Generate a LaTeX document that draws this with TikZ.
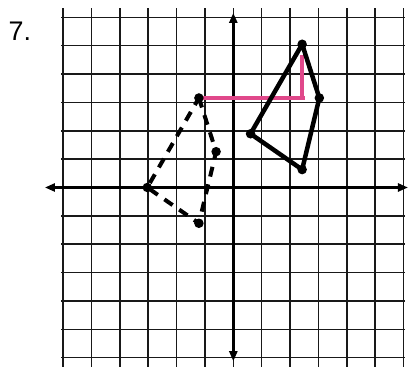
\documentclass[tikz,border=0pt]{standalone}
\usepackage{fontspec}
\setmainfont{Liberation Sans}
\usetikzlibrary{arrows.meta}
\definecolor{markpink}{HTML}{E0488A}

\begin{document}
\begin{tikzpicture}[
      x=17.2bp,y=17.9bp,
      >={Triangle[length=10bp,width=8bp]},
      gridline/.style={line width=1.5bp,black!90},
      axisline/.style={line width=2.4bp,<->},
      vertex/.style={circle,fill=black,inner sep=0pt,minimum size=9.5bp},
      image/.style={line width=4.5bp,line join=round},
      preimage/.style={line width=4bp,dash pattern=on 10bp off 8bp},
      guide/.style={markpink,line width=3.4bp},
      label/.style={font=\fontsize{27}{30}\selectfont}
    ]
    \useasboundingbox (-13.56,-10.03) rectangle (10.21,10.47);
    \node[label] (num) at (-12.4,8.74) {7.};

    % grid and axes
    \draw[gridline] (-10,-10) grid (10,10);
    \coordinate (xl) at (-10.95,0);
    \coordinate (xr) at (10.15,0);
    \coordinate (yt) at (0,9.75);
    \coordinate (yb) at (0,-9.7);
    \draw[axisline] (xl) -- (xr);
    \draw[axisline] (yt) -- (yb);

    % preimage (dashed)
    \coordinate (P) at (-2,5);
    \coordinate (Q) at (-1,2);
    \coordinate (R) at (-2,-2);
    \coordinate (S) at (-5,0);
    % image (solid)
    \coordinate (A) at (1,3);
    \coordinate (B) at (4,8);
    \coordinate (C) at (5,5);
    \coordinate (D) at (4,1);

    \coordinate (pinkend) at (4.15,5);
    \coordinate (pinktop) at (4,7.4);
    \coordinate (corner) at (4,5);
    \draw[guide] (P) -- (pinkend);
    \draw[guide] (corner) -- (pinktop);

    \draw[preimage] (P) -- (Q) -- (R) -- (S) -- cycle;
    \draw[image] (A) -- (B) -- (C) -- (D) -- cycle;

    \foreach \v in {P,Q,R,S,A,B,C,D}
      \node[vertex] (dot\v) at (\v) {};
  \end{tikzpicture}
\end{document}
